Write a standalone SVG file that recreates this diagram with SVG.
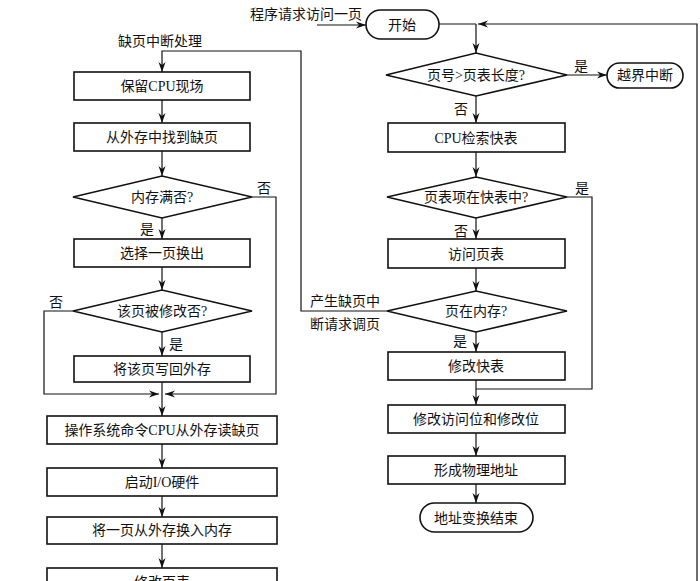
<svg xmlns="http://www.w3.org/2000/svg" width="700" height="581" viewBox="0 0 700 581">
<defs>
<marker id="ah" viewBox="0 0 10 10" refX="10" refY="5" markerWidth="10" markerHeight="10" markerUnits="userSpaceOnUse" orient="auto">
<path d="M0,1.5 L10,5 L0,8.5 L3,5 Z" fill="#111"/>
</marker>
<style>
.box{fill:#fff;stroke:#111;stroke-width:1.6}
.ln{fill:none;stroke:#111;stroke-width:1.2}
.ar{fill:none;stroke:#111;stroke-width:1.2;marker-end:url(#ah)}
text{font-family:"Liberation Serif","Noto Sans CJK SC",serif;font-size:14px;fill:#111;dominant-baseline:central}
.c{text-anchor:middle}
</style>
</defs>
<rect width="700" height="581" fill="#fff"/>

<g id="connectors">
<path class="ar" d="M317,25 L366,25"/>
<path class="ln" d="M439,24 L476,24"/>
<path class="ar" d="M476,24 L476,53"/>
<path class="ar" d="M697,581 L697,24 L478,24"/>
<path class="ar" d="M567,75 L607,75"/>
<path class="ar" d="M476,96 L476,123"/>
<path class="ar" d="M476,152 L476,177"/>
<path class="ln" d="M567,197 L592,197 L592,389 L476,389"/>
<path class="ar" d="M476,218 L476,239"/>
<path class="ar" d="M476,268 L476,291"/>
<path class="ar" d="M476,332 L476,352"/>
<path class="ar" d="M387,311 L301,311 L301,51 L162,51 L162,72"/>
<path class="ar" d="M476,380 L476,405"/>
<path class="ar" d="M476,433 L476,456"/>
<path class="ar" d="M476,484 L476,503"/>
<path class="ar" d="M162,100 L162,123"/>
<path class="ar" d="M162,151 L162,176"/>
<path class="ar" d="M162,218 L162,239"/>
<path class="ar" d="M162,267 L162,290"/>
<path class="ar" d="M162,332 L162,356"/>
<path class="ar" d="M162,382 L162,416"/>
<path class="ar" d="M252,197 L276,197 L276,394 L165,394"/>
<path class="ar" d="M73,311 L44,311 L44,394 L159,394"/>
<path class="ar" d="M162,444 L162,468"/>
<path class="ar" d="M162,496 L162,517"/>
<path class="ar" d="M162,544 L162,568"/>
</g>

<g id="labels">
<text x="250" y="14">程序请求访问一页</text>
<text class="c" x="160" y="41">缺页中断处理</text>
<text class="c" x="264" y="188">否</text>
<text class="c" x="147" y="229">是</text>
<text class="c" x="56" y="302">否</text>
<text class="c" x="176" y="344">是</text>
<text class="c" x="581" y="66">是</text>
<text class="c" x="461" y="109">否</text>
<text class="c" x="582" y="188">是</text>
<text class="c" x="461" y="231">否</text>
<text x="310" y="301">产生缺页中</text>
<text x="310" y="324">断请求调页</text>
<text class="c" x="460" y="341">是</text>
</g>

<g id="start"><rect class="box" x="366" y="10" width="73" height="29" rx="14.5"/><text class="c" x="402" y="25">开始</text></g>
<g id="d-pagelen"><path class="box" d="M386,75 L476,53 L567,75 L476,96 Z"/><text class="c" x="476" y="75">页号&gt;页表长度?</text></g>
<g id="overflow"><rect class="box" x="607" y="63" width="76" height="25" rx="12.5"/><text class="c" x="645" y="75">越界中断</text></g>
<g id="cpu-tlb"><rect class="box" x="388" y="123" width="177" height="29"/><text class="c" x="476" y="138">CPU检索快表</text></g>
<g id="d-intlb"><path class="box" d="M387,197 L476,177 L567,197 L476,218 Z"/><text class="c" x="476" y="197">页表项在快表中?</text></g>
<g id="visit-pt"><rect class="box" x="388" y="239" width="177" height="29"/><text class="c" x="476" y="254">访问页表</text></g>
<g id="d-inmem"><path class="box" d="M387,311 L476,291 L567,311 L476,332 Z"/><text class="c" x="476" y="311">页在内存?</text></g>
<g id="mod-tlb"><rect class="box" x="388" y="352" width="177" height="28"/><text class="c" x="476" y="366">修改快表</text></g>
<g id="mod-bits"><rect class="box" x="388" y="405" width="177" height="28"/><text class="c" x="476" y="419">修改访问位和修改位</text></g>
<g id="phys"><rect class="box" x="388" y="456" width="177" height="28"/><text class="c" x="476" y="470">形成物理地址</text></g>
<g id="end"><rect class="box" x="420" y="503" width="113" height="29" rx="14.5"/><text class="c" x="476" y="518">地址变换结束</text></g>

<g id="save-cpu"><rect class="box" x="74" y="72" width="176" height="28"/><text class="c" x="162" y="86">保留CPU现场</text></g>
<g id="find-page"><rect class="box" x="74" y="123" width="176" height="28"/><text class="c" x="162" y="137">从外存中找到缺页</text></g>
<g id="d-memfull"><path class="box" d="M73,197 L162,176 L252,197 L162,218 Z"/><text class="c" x="162" y="197">内存满否?</text></g>
<g id="select-out"><rect class="box" x="74" y="239" width="176" height="28"/><text class="c" x="162" y="253">选择一页换出</text></g>
<g id="d-modified"><path class="box" d="M73,311 L162,290 L252,311 L162,332 Z"/><text class="c" x="162" y="311">该页被修改否?</text></g>
<g id="write-back"><rect class="box" x="74" y="356" width="176" height="26"/><text class="c" x="162" y="369">将该页写回外存</text></g>
<g id="os-read"><rect class="box" x="47" y="416" width="230" height="28"/><text class="c" x="162" y="430" font-size="13.5">操作系统命令CPU从外存读缺页</text></g>
<g id="start-io"><rect class="box" x="47" y="468" width="230" height="28"/><text class="c" x="162" y="482">启动I/O硬件</text></g>
<g id="swap-in"><rect class="box" x="47" y="517" width="230" height="27"/><text class="c" x="162" y="530">将一页从外存换入内存</text></g>
<g id="mod-pt"><rect class="box" x="47" y="568" width="230" height="28"/><text class="c" x="162" y="582">修改页表</text></g>
</svg>
